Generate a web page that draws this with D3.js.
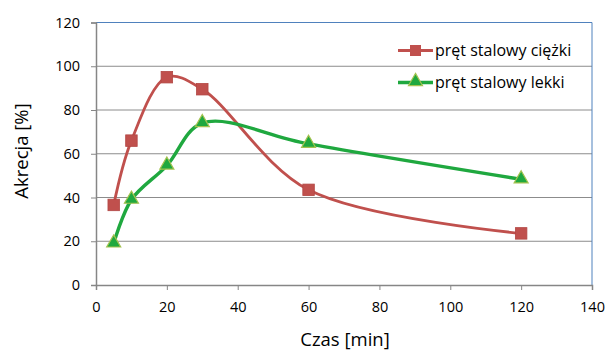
<!DOCTYPE html>
<html lang="pl">
  <head>
    <meta charset="utf-8" />
    <title>Akrecja</title>
    <style>
      body { margin: 0; background: #fff; }
      text { font-family: "Open Sans", "Noto Sans", sans-serif; fill: #000; }
    </style>
  </head>
  <body>
    <script src="https://d3js.org/d3.v7.min.js"></script>
    <div id="chart"></div>
    <script>
      // data
      const czas = [5, 10, 20, 30, 60, 120];
      const ciezki = [36.6, 66, 95, 89.5, 43.5, 23.6];
      const lekki = [19, 39, 54.6, 74, 64.5, 48.3];
      const seriesNames = ["pręt stalowy ciężki", "pręt stalowy lekki"];
      const xTicks = [0, 20, 40, 60, 80, 100, 120, 140];
      const yTicks = [0, 20, 40, 60, 80, 100, 120];

      const W = 607, H = 352;
      const margin = { top: 22.5, right: 15, bottom: 67, left: 96 };
      const width = W - margin.left - margin.right,
        height = H - margin.top - margin.bottom;

      const svg = d3.select("#chart").append("svg")
        .attr("width", W).attr("height", H);
      const g = svg.append("g")
        .attr("transform", `translate(${margin.left},${margin.top})`);

      const x = d3.scaleLinear().domain([0, 140]).range([0, width]);
      const y = d3.scaleLinear().domain([0, 120]).range([height, 0]);

      // gridlines
      g.append("g").selectAll("line")
        .data(yTicks.filter(d => d > 0 && d < 120))
        .join("line")
        .attr("x1", 0).attr("x2", width)
        .attr("y1", d => y(d)).attr("y2", d => y(d))
        .attr("stroke", "#8c8c8c").attr("stroke-width", 1);

      // plot area border top/right (blue)
      g.append("path")
        .attr("d", `M0,${y(120)}H${width}V${height}`)
        .attr("fill", "none").attr("stroke", "#4f81bd").attr("stroke-width", 1);

      // axes
      const xAxis = g.append("g")
        .attr("transform", `translate(0,${height})`)
        .call(d3.axisBottom(x).tickValues(xTicks).tickSize(5).tickPadding(12));
      const yAxis = g.append("g")
        .call(d3.axisLeft(y).tickValues(yTicks).tickSize(5).tickPadding(11));
      [xAxis, yAxis].forEach(a => {
        a.select(".domain").attr("stroke", "#868686").attr("stroke-width", 1.5);
        a.selectAll(".tick line").attr("stroke", "#868686");
        a.selectAll(".tick text").attr("font-size", 14.5)
          .style("font-family", '"Open Sans", sans-serif').attr("fill", "#000");
      });

      // axis titles
      svg.append("text")
        .attr("x", 345).attr("y", 346)
        .attr("text-anchor", "middle").attr("font-size", 18.5)
        .text("Czas [min]");
      svg.append("text")
        .attr("transform", `translate(28,151) rotate(-90)`)
        .attr("text-anchor", "middle").attr("font-size", 18.5)
        .text("Akrecja [%]");

      const line = d3.line()
        .x(d => x(d[0])).y(d => y(d[1]))
        .curve(d3.curveCatmullRom.alpha(0.5));

      const redPts = czas.map((c, i) => [c, ciezki[i]]);
      const greenPts = czas.map((c, i) => [c, lekki[i]]);

      g.append("path").datum(redPts)
        .attr("d", line).attr("fill", "none")
        .attr("stroke", "#c0504d").attr("stroke-width", 2.8);
      g.append("path").datum(greenPts)
        .attr("d", line).attr("fill", "none")
        .attr("stroke", "#1fa83f").attr("stroke-width", 3.4);

      const sq = 11.5;
      g.append("g").selectAll("rect").data(redPts).join("rect")
        .attr("x", d => x(d[0]) - sq / 2).attr("y", d => y(d[1]) - sq / 2)
        .attr("width", sq).attr("height", sq)
        .attr("fill", "#c0504d").attr("stroke", "#b24744").attr("stroke-width", 0.8);

      const tri = d3.symbol().type(d3.symbolTriangle).size(85);
      g.append("g").selectAll("path").data(greenPts).join("path")
        .attr("transform", d => `translate(${x(d[0])},${y(d[1]) - 0.5})`)
        .attr("d", tri)
        .attr("fill", "#1fa83f").attr("stroke", "#a4c24f").attr("stroke-width", 1.2);

      // legend
      const leg = svg.append("g");
      const legY = [50.5, 82.5];
      const legColors = ["#c0504d", "#1fa83f"];
      seriesNames.forEach((name, i) => {
        const ly = legY[i];
        leg.append("line")
          .attr("x1", 398).attr("x2", 433).attr("y1", ly).attr("y2", ly)
          .attr("stroke", legColors[i]).attr("stroke-width", i ? 3.4 : 2.8);
        if (i === 0) {
          leg.append("rect").attr("x", 410).attr("y", ly - 5.5)
            .attr("width", 11).attr("height", 11).attr("fill", "#c0504d");
        } else {
          leg.append("path").attr("transform", `translate(415.5,${ly - 1})`)
            .attr("d", tri).attr("fill", "#1fa83f")
            .attr("stroke", "#a4c24f").attr("stroke-width", 1.2);
        }
        leg.append("text").attr("x", 435).attr("y", ly + 5)
          .attr("font-size", 16).text(name);
      });
    </script>
  </body>
</html>
